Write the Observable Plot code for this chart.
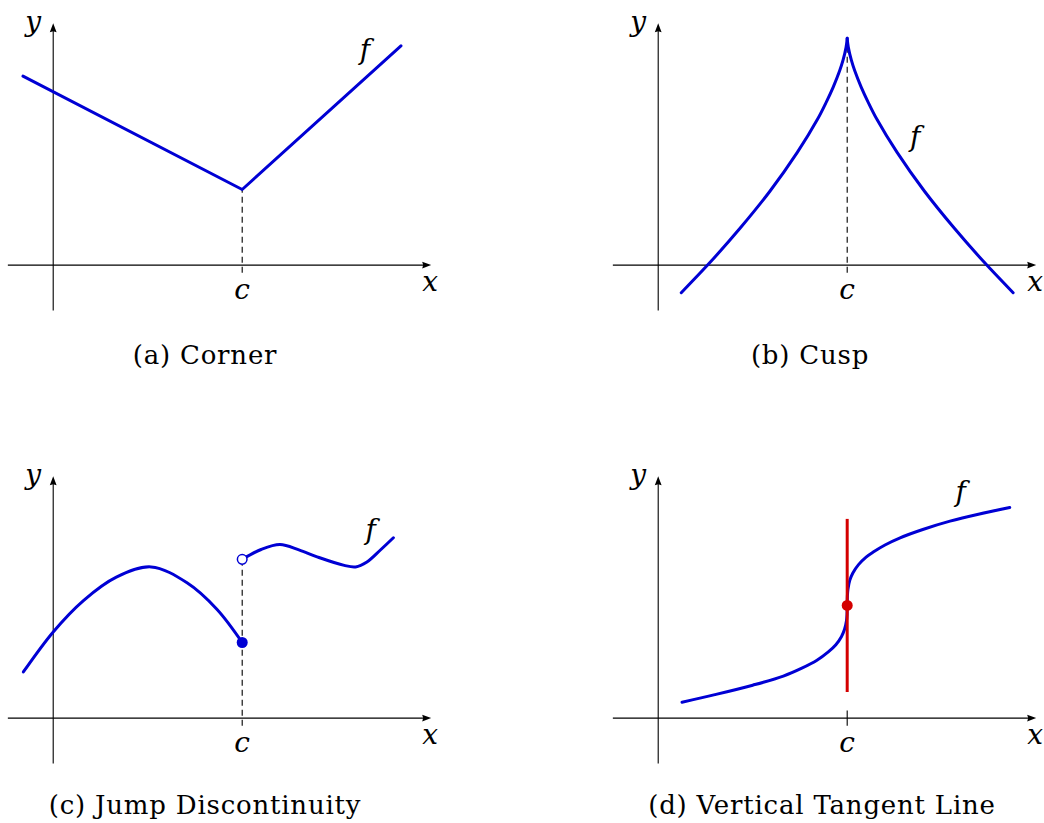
<!DOCTYPE html>
<html><head><meta charset="utf-8">
<script src="https://cdn.jsdelivr.net/npm/d3@7"></script>
<script src="https://cdn.jsdelivr.net/npm/@observablehq/plot@0.6"></script>
<style>
html,body{margin:0;padding:0;background:#fff}
body{width:1044px;height:823px;position:relative;overflow:hidden}
.panel{position:absolute}
.panel svg{max-width:none !important;display:block}
.cap{position:absolute;font-family:"DejaVu Serif",serif;font-size:26px;letter-spacing:0.8px;line-height:1;transform:translate(-50%,-50%);white-space:nowrap;color:#000}
</style></head><body>
<script>
// ---------- data (units: cm in the original figure) ----------
const cValue = 5;
const axisXExtent = [-1.2, 10.0];
const axisYExtent = [-1.2, 6.4];

// (a) Corner
const cornerX = [-0.8, 5.0, 9.2];
const cornerY = [5.0, 2.0, 5.8];

// (b) Cusp : left and right branches
const cuspLeftX  = [0.61, 1.38, 2.17, 2.96, 3.68, 4.21, 4.45, 4.63, 4.80, 4.89, 4.97, 5.0];
const cuspLeftY  = [-0.73, 0.08, 0.98, 1.96, 2.98, 3.85, 4.32, 4.71, 5.14, 5.42, 5.76, 6.0];
const cuspRightX = [5.0, 5.03, 5.11, 5.20, 5.37, 5.55, 5.79, 6.32, 7.04, 7.83, 8.62, 9.39];
const cuspRightY = [6.0, 5.76, 5.42, 5.14, 4.71, 4.32, 3.85, 2.98, 1.96, 0.98, 0.08, -0.73];

// (c) Jump discontinuity
const jumpLeftX  = [-0.79, 0.0, 0.80, 1.67, 2.59, 3.54, 4.33, 5.0];
const jumpLeftY  = [1.22, 2.28, 3.11, 3.73, 4.00, 3.58, 2.88, 2.0];
const jumpRightX = [5.0, 5.5, 6.0, 6.5, 7.0, 7.7, 8.0, 8.3, 8.65, 9.0];
const jumpRightY = [4.2, 4.46, 4.59, 4.45, 4.26, 4.04, 4.0, 4.13, 4.44, 4.77];

// (d) Vertical tangent
const vtX = [0.63, 1.5, 2.5, 3.31, 3.8, 4.2, 4.5, 4.7, 4.85, 4.93, 4.98, 4.995, 5.0,
             5.005, 5.02, 5.07, 5.15, 5.3, 5.5, 5.7, 6.0, 6.4, 7.0, 7.72, 8.5, 9.3];
const vtY = [0.42, 0.62, 0.87, 1.11, 1.32, 1.53, 1.75, 1.94, 2.16, 2.35, 2.57, 2.73, 2.98,
             3.23, 3.41, 3.65, 3.84, 4.06, 4.26, 4.40, 4.58, 4.77, 4.99, 5.21, 5.40, 5.57];
const tangentY = [0.69, 5.27];
const tangentPointY = 2.98;

// labels
const fLabelPos = {a: [8.25, 5.69], b: [6.8, 3.4], c: [8.4, 4.97], d: [8.0, 5.98]};
const captions = ["(a) Corner", "(b) Cusp", "(c) Jump Discontinuity", "(d) Vertical Tangent Line"];

// ---------- layout ----------
const S = 37.8;                 // px per unit
const xDom = [-1.5, 10.6];
const yDom = [-1.6, 7.0];
const W = (xDom[1] - xDom[0]) * S;
const H = (yDom[1] - yDom[0]) * S;
const origins = {a: [53, 265], b: [658, 265], c: [53, 718], d: [658, 718]};
const capPos = [[205, 355], [810, 355], [205, 805], [822, 805]];

const BLUE = "#0000d4";
const RED = "#d40000";
const FONT = "'DejaVu Serif',serif";

const toPts = (xs, ys, g) => xs.map((x, i) => ({x, y: ys[i], g}));

// filled latex-like arrow head, tip at the dot position, pointing up before rotation
const arrowHead = {
  draw(ctx) {
    ctx.moveTo(0, 0);
    ctx.lineTo(3.4, 9);
    ctx.lineTo(0, 8);
    ctx.lineTo(-3.4, 9);
    ctx.closePath();
  }
};

function axesMarks() {
  return [
    Plot.link([{x1: axisXExtent[0], y1: 0, x2: axisXExtent[1] - 0.15, y2: 0},
               {x1: 0, y1: axisYExtent[0], x2: 0, y2: axisYExtent[1] - 0.15}],
      {x1: "x1", y1: "y1", x2: "x2", y2: "y2", stroke: "#000", strokeWidth: 1.1}),
    Plot.dot([{x: axisXExtent[1], y: 0, r: 90}, {x: 0, y: axisYExtent[1], r: 0}],
      {x: "x", y: "y", rotate: "r", symbol: arrowHead, fill: "#000", stroke: "none", r: 5}),
    Plot.text([{x: -0.53, y: 6.43, t: "y"}, {x: 9.97, y: -0.45, t: "x"}, {x: cValue, y: -0.67, t: "c"}],
      {x: "x", y: "y", text: "t", fontFamily: FONT, fontStyle: "italic", fontSize: 28, fill: "#000"})
  ];
}

function fLabel(p) {
  return Plot.text([{x: p[0], y: p[1], t: "f"}],
    {x: "x", y: "y", text: "t", fontFamily: FONT, fontStyle: "italic", fontSize: 28, fill: "#000"});
}

function dashed(top) {
  return Plot.link([{x1: cValue, y1: -0.2, x2: cValue, y2: top}],
    {x1: "x1", y1: "y1", x2: "x2", y2: "y2", stroke: "#000", strokeWidth: 1.1, strokeDasharray: "6,4"});
}

function makePlot(marks) {
  return Plot.plot({
    width: W, height: H, margin: 0,
    x: {domain: xDom, axis: null},
    y: {domain: yDom, axis: null},
    style: {background: "transparent", overflow: "visible", maxWidth: "none"},
    marks
  });
}

const panels = {
  a: makePlot([
    ...axesMarks(),
    dashed(2.0),
    Plot.line(toPts(cornerX, cornerY, 0), {x: "x", y: "y", stroke: BLUE, strokeWidth: 3, curve: "linear"}),
    fLabel(fLabelPos.a)
  ]),
  b: makePlot([
    ...axesMarks(),
    dashed(6.0),
    Plot.line([...toPts(cuspLeftX, cuspLeftY, "L"), ...toPts(cuspRightX, cuspRightY, "R")],
      {x: "x", y: "y", z: "g", stroke: BLUE, strokeWidth: 3, curve: "catmull-rom"}),
    fLabel(fLabelPos.b)
  ]),
  c: makePlot([
    ...axesMarks(),
    dashed(jumpRightY[0]),
    Plot.line([...toPts(jumpLeftX, jumpLeftY, "L"), ...toPts(jumpRightX, jumpRightY, "R")],
      {x: "x", y: "y", z: "g", stroke: BLUE, strokeWidth: 3, curve: "catmull-rom"}),
    Plot.dot([{x: cValue, y: jumpLeftY[jumpLeftY.length - 1]}], {x: "x", y: "y", r: 5.5, fill: BLUE, stroke: "none"}),
    Plot.dot([{x: cValue, y: jumpRightY[0]}], {x: "x", y: "y", r: 4.8, fill: "#fff", stroke: BLUE, strokeWidth: 1.5}),
    fLabel(fLabelPos.c)
  ]),
  d: makePlot([
    ...axesMarks(),
    Plot.link([{x1: cValue, y1: -0.2, x2: cValue, y2: 0.2}],
      {x1: "x1", y1: "y1", x2: "x2", y2: "y2", stroke: "#000", strokeWidth: 1.1}),
    Plot.line(toPts(vtX, vtY, 0), {x: "x", y: "y", stroke: BLUE, strokeWidth: 3, curve: "catmull-rom"}),
    Plot.link([{x1: cValue, y1: tangentY[0], x2: cValue, y2: tangentY[1]}],
      {x1: "x1", y1: "y1", x2: "x2", y2: "y2", stroke: RED, strokeWidth: 3}),
    Plot.dot([{x: cValue, y: tangentPointY}], {x: "x", y: "y", r: 5.5, fill: RED, stroke: "none"}),
    fLabel(fLabelPos.d)
  ])
};

for (const k of ["a", "b", "c", "d"]) {
  const div = document.createElement("div");
  div.className = "panel";
  const [ox, oy] = origins[k];
  div.style.left = (ox + xDom[0] * S) + "px";
  div.style.top = (oy - yDom[1] * S) + "px";
  div.style.width = W + "px";
  div.style.height = H + "px";
  div.appendChild(panels[k]);
  document.body.appendChild(div);
}

captions.forEach((t, i) => {
  const d = document.createElement("div");
  d.className = "cap";
  d.textContent = t;
  d.style.left = capPos[i][0] + "px";
  d.style.top = capPos[i][1] + "px";
  document.body.appendChild(d);
});
</script>
</body></html>
